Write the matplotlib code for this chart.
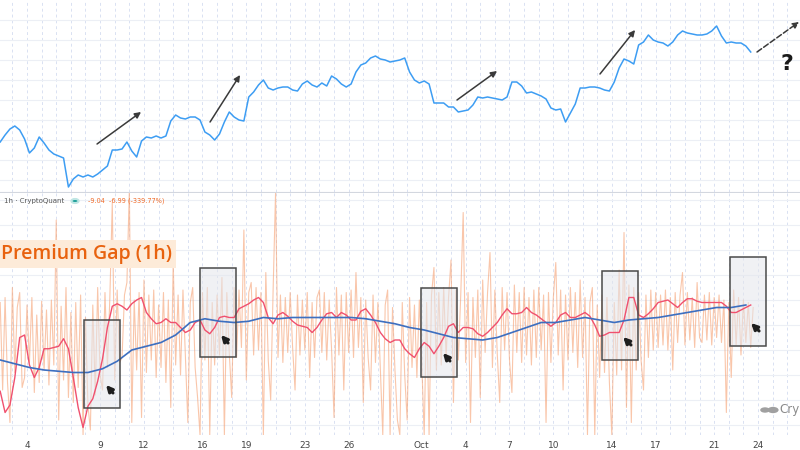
import numpy as np
import matplotlib
matplotlib.use("Agg")
import matplotlib.pyplot as plt
from matplotlib.patches import Rectangle, Circle

# ---------------- data ----------------
# time axis in "day" units: 4.0 = Sep 4 00:00, 31.0 = Oct 1 00:00
price_start, price_step = 2 + 4 / 24, 8 / 24          # 8-hour samples
price = [57800, 58500, 59100, 59400, 59000, 58100, 56700, 57200, 58300, 57700,
         57000, 56600, 56400, 56200, 53300, 54100, 54500, 54300, 54500, 54300,
         54600, 55000, 55400, 57000, 57000, 57100, 57800, 56900, 56300, 57900,
         58300, 58200, 58400, 58200, 58400, 59900, 60500, 60200, 60100, 60300,
         60300, 60000, 58800, 58500, 58000, 58600, 59800, 60800, 60300, 60000,
         59900, 62300, 62800, 63500, 64000, 63200, 63000, 63200, 63300, 63300,
         63000, 62900, 63600, 63900, 63500, 63300, 63700, 63400, 64400, 64100,
         63600, 63300, 63600, 64800, 65500, 65700, 66200, 66400, 66100, 66000,
         65800, 65900, 66000, 66200, 64800, 64000, 63700, 63900, 63600, 61700,
         61700, 61700, 61300, 61300, 60800, 60900, 61000, 61500, 62300, 62200,
         62300, 62200, 62100, 62000, 62300, 63800, 63800, 63400, 62700, 62800,
         62600, 62400, 62100, 61200, 61000, 61100, 59800, 60700, 61600, 63200,
         63200, 63300, 63300, 63200, 63000, 62900, 63800, 65200, 66100, 65900,
         65600, 67500, 67800, 68500, 68000, 67800, 67700, 67400, 67800, 68500,
         68900, 68700, 68600, 68500, 68500, 68600, 68900, 69400, 68400, 67700,
         67800, 67700, 67700, 67400, 66800]

gap_start, gap_step = 2 + 4 / 24, 4 / 24              # 4-hour samples
premium_gap = [
    1.8, -5.2, 2.2, -4.6, -7.8, 3.0, -3.8, 1.4, 2.6, -5.0,
    -4.2, 1.6, -3.0, 2.2, -5.4, 0.8, -4.6, 1.9, -3.6, 1.2,
    -4.8, 2.0, -3.2, 8.4, -7.6, 1.5, -4.4, 3.0, -5.8, 1.0,
    -6.2, 1.8, -5.0, 2.4, -8.8, 0.6, -6.4, -8.4, 1.6, -5.6,
    3.0, -4.0, -5.2, 2.6, -3.4, 2.2, 9.8, -4.4, 2.8, -3.0,
    -2.6, 2.4, 3.4, 10.8, -7.8, 2.0, -3.6, 2.6, -7.4, 3.6,
    -3.8, 2.4, -2.8, 2.8, -4.2, 1.6, -3.4, 2.6, -4.6, 2.0,
    -6.6, 5.0, -3.2, 2.4, -4.0, 2.8, -2.6, -7.8, 1.8, 3.0,
    -3.4, -5.8, -8.8, 2.6, -2.8, 3.0, -8.8, 1.8, -3.2, 2.4,
    -2.4, 3.8, -8.8, 2.6, -2.2, -5.8, 3.0, -2.6, 2.8, -1.8,
    7.6, -4.4, 2.6, 3.4, -2.4, 3.0, -2.0, 2.6, -8.8, 4.2,
    -2.8, -6.0, 2.8, 10.6, -2.6, 2.4, -3.0, 2.2, -2.2, 2.6,
    -1.8, -5.2, 2.4, -2.4, 2.0, -2.0, 2.6, -4.2, 1.8, -2.6,
    2.2, 2.8, -2.2, 2.6, -2.8, 2.0, -2.0, -7.4, 3.0, -2.4,
    2.4, -5.2, 2.6, -2.2, 2.8, -2.6, 4.2, -1.8, 2.2, -6.2,
    2.0, -2.6, -5.2, 2.4, -3.0, 1.8, -3.4, -8.8, 1.6, 2.8,
    -8.8, 1.4, -3.6, -7.6, -8.8, 1.8, -4.0, -7.6, 2.2, -3.4,
    1.6, -4.2, 2.0, -3.0, -8.8, 1.8, -8.8, 2.4, 4.6, -3.6,
    2.6, -3.2, 3.0, -2.6, 2.2, 5.2, -6.2, 2.8, -2.8, 2.4,
    9.0, -3.0, 2.6, -7.8, 2.2, -2.6, 2.8, -5.8, 3.6, -2.2,
    2.6, 5.8, -3.4, 2.8, -2.4, -6.2, 3.0, -2.0, 2.6, -2.8,
    -5.4, 3.2, -2.2, 2.6, -3.0, 3.0, -2.4, 2.2, -3.2, 2.8,
    -2.6, 3.0, -2.0, 2.4, -7.8, 2.6, -3.0, 2.2, 5.0, -2.4,
    2.8, -5.2, 2.4, -2.8, 3.0, -2.2, 2.6, -3.4, 3.6, -2.6,
    2.2, -8.8, 1.8, 3.0, -8.8, 1.6, -4.2, 2.4, -3.8, 2.2,
    -4.6, -8.8, 1.8, -4.0, 4.4, -3.6, 7.4, -6.6, 3.2, -7.8,
    3.0, -3.6, 2.6, -2.8, -5.2, 2.4, -2.6, 2.8, -2.0, 2.6,
    -1.8, 2.4, -1.6, 2.8, -2.0, 2.2, -3.6, 2.6, -1.4, 2.4,
    4.2, -1.6, 2.6, -1.2, 2.2, -1.8, 3.4, -1.0, -1.4, 2.4,
    -1.2, 2.6, -1.6, 2.2, -1.0, 2.4, -1.4, 2.0, -7.0, 1.8,
    -4.2, 2.8, -1.6, 2.2, -2.4, 2.0, -1.4, 1.8, -1.8, 1.4]

# short moving average (8-hour samples)
gap_ma_short = [
    -5.3, -7.0, -6.4, -4.2, -1.0, -0.8, -3.2, -4.2, -3.4, -1.9,
    -1.9, -1.8, -1.7, -1.1, -1.9, -4.2, -6.6, -8.2, -6.5, -5.9,
    -4.5, -2.7, -0.2, 1.5, 1.7, 1.5, 1.2, 1.7, 2.0, 2.2,
    1.0, 0.5, 0.1, 0.2, 0.5, 0.2, 0.2, -0.2, -0.6, -0.4,
    0.2, 0.4, -0.4, -0.7, -0.2, 0.6, 0.7, 0.6, 0.6, 1.3,
    1.5, 1.7, 2.0, 2.2, 1.8, 0.6, 0.1, 0.8, 1.0, 0.7,
    0.3, 0.0, -0.1, -0.2, -0.6, -0.2, 0.4, 0.9, 1.0, 0.6,
    1.0, 0.8, 0.4, 0.4, 1.1, 1.3, 0.8, 0.2, -0.6, -1.1,
    -1.4, -1.2, -1.2, -1.9, -2.3, -2.6, -1.9, -1.4, -1.7, -2.3,
    -1.7, -1.0, -0.1, 0.1, -0.6, -0.2, -0.2, -0.3, -0.7, -0.9,
    -0.6, -0.2, 0.2, 0.8, 1.3, 0.9, 0.9, 1.0, 1.4, 1.0,
    0.8, 0.5, 0.2, -0.1, 0.2, 0.8, 1.0, 0.6, 0.6, 0.8,
    1.0, 0.7, 0.0, -0.9, -0.8, -0.6, -0.6, -0.6, 0.4, 2.2,
    2.2, 0.8, 0.6, 0.9, 1.3, 1.8, 1.9, 2.0, 1.7, 1.4,
    1.8, 2.1, 2.1, 1.9, 1.8, 1.8, 1.8, 1.8, 1.8, 1.5,
    1.0, 1.0, 1.2, 1.4, 1.6]

# long moving average (daily samples)
ma_long_start, ma_long_step = 2 + 4 / 24, 1.0
gap_ma_long = [
    -2.8, -3.1, -3.4, -3.6, -3.7, -3.8, -3.8, -3.5, -2.9, -2.0,
    -1.7, -1.4, -0.8, 0.2, 0.5, 0.3, 0.2, 0.3, 0.6, 0.5,
    0.6, 0.6, 0.6, 0.6, 0.6, 0.5, 0.3, 0.1, -0.2, -0.4,
    -0.7, -1.0, -1.1, -1.2, -1.0, -0.6, -0.2, 0.2, 0.2, 0.4,
    0.6, 0.4, 0.2, 0.4, 0.5, 0.6, 0.8, 1.0, 1.2, 1.4,
    1.4, 1.6]

tick_days = [4, 9, 12, 16, 19, 23, 26, 31, 34, 37, 40, 44, 47, 51, 54]
tick_labels = ["4", "9", "12", "16", "19", "23", "26", "Oct",
               "4", "7", "10", "14", "17", "21", "24"]

# highlighted zones: (day_start, day_end, gap_top, gap_bottom)
zones = [(7.90, 10.36, 0.40, -6.64),
         (15.83, 18.30, 4.56, -2.56),
         (30.95, 33.41, 2.96, -4.16),
         (43.33, 45.79, 4.32, -2.80),
         (52.08, 54.55, 5.44, -1.68)]
# cursor arrows in zones: (tail_day, tail_gap, tip_day, tip_gap)
cursors = [(9.882, -5.44, 9.403, -4.80),
           (17.75, -1.44, 17.27, -0.80),
           (32.93, -2.88, 32.45, -2.24),
           (45.31, -1.60, 44.77, -0.96),
           (54.07, -0.48, 53.52, 0.16)]
# trend arrows in price panel: (day0, price0, day1, price1)
trend_arrows = [(8.79, 57600, 11.80, 60800),
                (16.52, 59800, 18.57, 64500),
                (33.41, 62000, 36.15, 64900),
                (43.19, 64600, 45.59, 69000)]
future_arrow = (53.93, 66800, 56.80, 69800)

# ---------------- figure ----------------
XMIN, XMAX = 2.153, 56.87
fig = plt.figure(figsize=(8, 4.5), dpi=100)
fig.patch.set_facecolor("white")

ax_top = fig.add_axes([0, 258 / 450, 1, 192 / 450])
ax_bot = fig.add_axes([0, 15 / 450, 1, 242 / 450])

grid_v = "#d9e1f2"
grid_h = "#eceff5"

for ax in (ax_top, ax_bot):
    ax.set_xlim(XMIN, XMAX)
    for d in np.arange(3, 57):
        ax.axvline(d, color=grid_v, lw=0.7, ls=(0, (3, 3)), zorder=0)
    for s in ax.spines.values():
        s.set_visible(False)
    ax.set_yticks([])
    ax.tick_params(length=0)

# price panel
t_price = price_start + price_step * np.arange(len(price))
ax_top.set_ylim(52800, 72000)
for p in range(54000, 72000, 2000):
    ax_top.axhline(p, color=grid_h, lw=0.8, zorder=0)
ax_top.plot(t_price, price, color="#3d9df3", lw=1.1, zorder=3)
ax_top.set_xticks([])
ax_top.spines["bottom"].set_visible(True)
ax_top.spines["bottom"].set_color("#d3d7df")
ax_top.spines["bottom"].set_linewidth(0.8)

for d0, p0, d1, p1 in trend_arrows:
    ax_top.annotate("", xy=(d1, p1), xytext=(d0, p0),
                    arrowprops=dict(arrowstyle="-|>", color="#3a3a3a", lw=1.1,
                                    mutation_scale=9, shrinkA=0, shrinkB=0),
                    zorder=5)
d0, p0, d1, p1 = future_arrow
ax_top.annotate("", xy=(d1, p1), xytext=(d0, p0),
                arrowprops=dict(arrowstyle="-|>", color="#3a3a3a", lw=1.1, ls="--",
                                mutation_scale=9, shrinkA=0, shrinkB=0),
                annotation_clip=False, zorder=5)
ax_top.text(55.98, 65600, "?", fontsize=16, fontweight="bold", color="#1a1a1a",
            ha="center", va="center", zorder=6)

# premium gap panel
ax_bot.set_ylim(-8.8, 10.56)
for g in range(-8, 12, 2):
    ax_bot.axhline(g, color=grid_h, lw=0.8, zorder=0)
t_gap = gap_start + gap_step * np.arange(len(premium_gap))
ax_bot.plot(t_gap, premium_gap, color="#f6a072", lw=0.8, alpha=0.6, zorder=1)

for x0, x1, y0, y1 in zones:
    ax_bot.add_patch(Rectangle((x0, y1), x1 - x0, y0 - y1, facecolor="#e4e6ec",
                               alpha=0.55, edgecolor="none", zorder=2))
    ax_bot.add_patch(Rectangle((x0, y1), x1 - x0, y0 - y1, facecolor="none",
                               edgecolor="#4a4a4a", lw=1.1, zorder=4))

t_short = price_start + price_step * np.arange(len(gap_ma_short))
ax_bot.plot(t_short, gap_ma_short, color="#f0506e", lw=1.0, zorder=3)
t_long = ma_long_start + ma_long_step * np.arange(len(gap_ma_long))
ax_bot.plot(t_long, gap_ma_long, color="#3d6fc0", lw=1.2, zorder=3)

for xa, ya, xb, yb in cursors:
    ax_bot.annotate("", xy=(xb, yb), xytext=(xa, ya),
                    arrowprops=dict(arrowstyle="-|>", color="#1e1e1e", lw=2.2,
                                    mutation_scale=9, shrinkA=0, shrinkB=0),
                    zorder=6)

ax_bot.set_xticks(tick_days)
ax_bot.set_xticklabels(tick_labels, fontsize=6.5, color="#444444")
ax_bot.tick_params(axis="x", length=0, pad=4)

# header text / labels
fig.text(4 / 800, 1 - 201 / 450, "1h · CryptoQuant", fontsize=5.0, color="#555555",
         va="center", ha="left")
fig.patches.append(Circle((75 / 800, 1 - 201 / 450), 0.0045, transform=fig.transFigure,
                          facecolor="#1a9e98", edgecolor="#bfe6e4", lw=1.5))
fig.text(88 / 800, 1 - 201 / 450, "-9.04  -6.99 (-339.77%)", fontsize=4.7,
         color="#f06a28", va="center", ha="left")

fig.text(1 / 800, 1 - 254 / 450, "Premium Gap (1h)", fontsize=14,
         fontweight="semibold", family="Open Sans", color="#e8620f", va="center",
         ha="left",
         bbox=dict(boxstyle="square,pad=0.22", facecolor="#fdebd9", edgecolor="none"))

# watermark
fig.patches.append(Circle((765 / 800, 1 - 410 / 450), 0.006, transform=fig.transFigure,
                          facecolor="#a0a0a0", edgecolor="none"))
fig.patches.append(Circle((773 / 800, 1 - 410 / 450), 0.007, transform=fig.transFigure,
                          facecolor="#a0a0a0", edgecolor="none"))
fig.text(779 / 800, 1 - 410 / 450, "Cry", fontsize=8.5, color="#8a8a8a",
         va="center", ha="left")

fig.savefig("out.png", dpi=100)
